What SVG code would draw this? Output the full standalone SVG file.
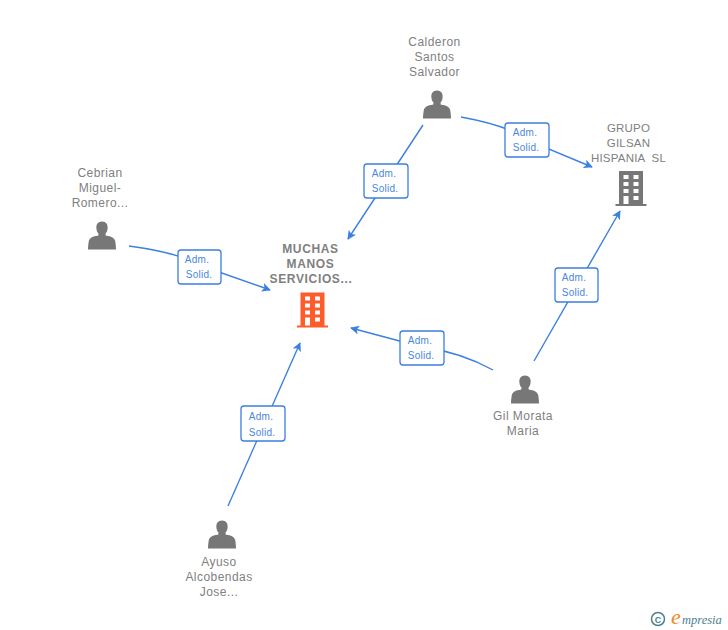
<svg xmlns="http://www.w3.org/2000/svg" width="728" height="630" viewBox="0 0 728 630">
<style>
.l{font:12px "Liberation Sans",Arial,sans-serif;fill:#808080;text-anchor:middle;letter-spacing:.45px}
.g{font-size:11.500px;letter-spacing:.2px;white-space:pre}
.b{font-weight:bold;letter-spacing:.65px}
.t{font:10px "Liberation Sans",Arial,sans-serif;fill:#4a86e0;text-anchor:middle;letter-spacing:.25px}
.c{fill:none;stroke:#3b7fe0;stroke-width:1.4}
.box{fill:#fff;stroke:#3b7fe0;stroke-width:1.3}
</style>
<defs>
<marker id="a" viewBox="0 0 10 10" refX="9" refY="5" markerWidth="9" markerHeight="9" orient="auto" markerUnits="userSpaceOnUse"><path d="M0 0L10 5L0 10L2.500 5Z" fill="#3b7fe0"/></marker>
<g id="p"><path d="M0-14.500C-4.200-14.500-6-11.500-5.600-7.500C-5.400-5.200-4.700-3.600-3.600-2.500L-3.600-0.500C-6-0.200-12.500 1-13.200 5C-13.500 7-14 10-14 13.500L14 13.500C14 10 13.500 7 13.200 5C12.500 1 6-0.200 3.600-0.500L3.600-2.500C4.700-3.600 5.400-5.200 5.600-7.500C6-11.500 4.200-14.500 0-14.500Z" fill="#777"/></g>
<path id="bd" fill-rule="evenodd" d="M-15.500 15H15.500V17H-15.500ZM-12 -18H12V15H-2.500V7H-7.500V15H-12ZM-7.500-14V-10H-2.500V-14ZM2.500-14V-10H7.500V-14ZM-7.500-7V-3H-2.500V-7ZM2.500-7V-3H7.500V-7ZM-7.500 0V4H-2.500V0ZM2.500 0V4H7.500V0ZM2.500 7V11H7.500V7Z"/>
</defs>
<g id="connectors">
<path class="c" marker-end="url(#a)" d="M423 125L348 239"/>
<path class="c" marker-end="url(#a)" d="M461 117Q510 126 527 140L592 167"/>
<path class="c" marker-end="url(#a)" d="M129 246Q180 253 199 265L270 290"/>
<path class="c" marker-end="url(#a)" d="M493 370Q460 352 422 347L351 328"/>
<path class="c" marker-end="url(#a)" d="M534 361L620 211"/>
<path class="c" marker-end="url(#a)" d="M228 506L300 343"/>
</g>
<g id="edge-labels">
<rect class="box" x="364" y="164" width="44" height="34" rx="3"/><text class="t" x="384" y="177">Adm.</text><text class="t" x="385" y="192">Solid.</text>
<rect class="box" x="505" y="123" width="44" height="34" rx="3"/><text class="t" x="525" y="136">Adm.</text><text class="t" x="526" y="151">Solid.</text>
<rect class="box" x="178" y="250" width="43" height="34" rx="3"/><text class="t" x="197" y="263">Adm.</text><text class="t" x="199" y="278">Solid.</text>
<rect class="box" x="400" y="331" width="44" height="34" rx="3"/><text class="t" x="420" y="344">Adm.</text><text class="t" x="421" y="359">Solid.</text>
<rect class="box" x="555" y="268" width="43" height="34" rx="3"/><text class="t" x="574" y="281">Adm.</text><text class="t" x="575" y="296">Solid.</text>
<rect class="box" x="241" y="406" width="44" height="35" rx="3"/><text class="t" x="261" y="420">Adm.</text><text class="t" x="262" y="436">Solid.</text>
</g>
<g id="n-muchas"><text class="l b" x="310.500" y="253">MUCHAS</text><text class="l b" x="310.500" y="268">MANOS</text><text class="l b" x="311" y="283">SERVICIOS...</text><use href="#bd" x="312.500" y="310.500" fill="#ff5c2b"/></g>
<g id="n-grupo"><text class="l g" x="628.500" y="132">GRUPO</text><text class="l g" x="628.500" y="147">GILSAN</text><text class="l g" x="628.500" y="162">HISPANIA  SL</text><use href="#bd" x="631" y="189" fill="#777"/></g>
<g id="n-calderon"><text class="l" x="434.500" y="46">Calderon</text><text class="l" x="434.500" y="61">Santos</text><text class="l" x="434.500" y="76">Salvador</text><use href="#p" x="437" y="105"/></g>
<g id="n-cebrian"><text class="l" x="100" y="177">Cebrian</text><text class="l" x="100" y="192">Miguel-</text><text class="l" x="100" y="207">Romero...</text><use href="#p" x="102" y="236"/></g>
<g id="n-gil"><use href="#p" x="525" y="390"/><text class="l" x="523" y="420">Gil Morata</text><text class="l" x="523" y="435">Maria</text></g>
<g id="n-ayuso"><use href="#p" x="222" y="535"/><text class="l" x="219" y="566">Ayuso</text><text class="l" x="219" y="581">Alcobendas</text><text class="l" x="219" y="596">Jose...</text></g>
<g id="brand"><circle cx="658" cy="619" r="6.500" fill="none" stroke="#4a8090" stroke-width="1.500"/><text x="658" y="622.500" text-anchor="middle" style="font:bold 9px 'Liberation Sans',sans-serif;fill:#4a8090">C</text><text x="671" y="624" style="font:italic 22px 'Liberation Serif',serif;fill:#f08a1d">e</text><text x="682" y="624" style="font:italic 12.500px 'Liberation Serif',serif;fill:#4a8090">mpresia</text></g>
</svg>
